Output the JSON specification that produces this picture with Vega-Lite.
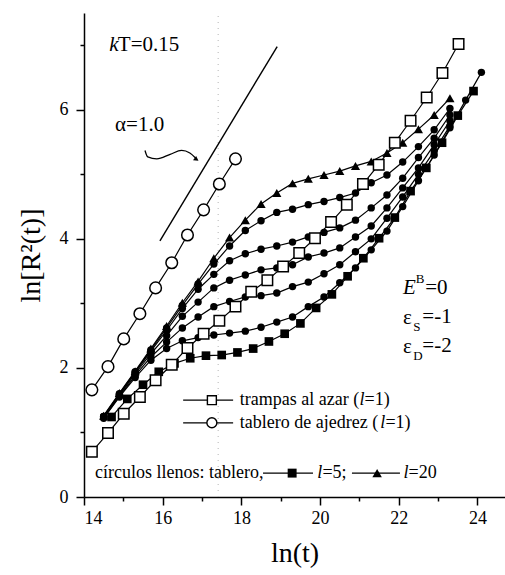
{
  "$schema": "https://vega.github.io/schema/vega-lite/v6.json",
  "width": 421,
  "height": 484,
  "autosize": {"type": "none"},
  "padding": {"left": 84, "top": 13, "right": 0, "bottom": 78},
  "background": "white",
  "config": {
    "view": {"stroke": null},
    "font": "'Liberation Serif', 'Times New Roman', serif",
    "axis": {"grid": false, "domainColor": "black", "tickColor": "black", "labelColor": "black", "titleColor": "black", "labelFont": "'Liberation Serif', 'Times New Roman', serif", "titleFont": "'Liberation Serif', 'Times New Roman', serif", "titleFontWeight": "normal", "domainWidth": 1.5, "tickWidth": 1.5}
  },
  "datasets": {
    "pts": [
      {"s": "tablero", "x": 14.2, "y": 1.66}, {"s": "tablero", "x": 14.61, "y": 2.02}, {"s": "tablero", "x": 15.01, "y": 2.45}, {"s": "tablero", "x": 15.42, "y": 2.84}, {"s": "tablero", "x": 15.82, "y": 3.24}, {"s": "tablero", "x": 16.23, "y": 3.63}, {"s": "tablero", "x": 16.63, "y": 4.06}, {"s": "tablero", "x": 17.04, "y": 4.45}, {"s": "tablero", "x": 17.44, "y": 4.85}, {"s": "tablero", "x": 17.85, "y": 5.24},
      {"s": "trampas", "x": 14.2, "y": 0.70}, {"s": "trampas", "x": 14.61, "y": 0.99}, {"s": "trampas", "x": 15.01, "y": 1.29}, {"s": "trampas", "x": 15.42, "y": 1.55}, {"s": "trampas", "x": 15.82, "y": 1.81}, {"s": "trampas", "x": 16.23, "y": 2.05}, {"s": "trampas", "x": 16.63, "y": 2.31}, {"s": "trampas", "x": 17.04, "y": 2.53}, {"s": "trampas", "x": 17.44, "y": 2.73}, {"s": "trampas", "x": 17.85, "y": 2.95}, {"s": "trampas", "x": 18.25, "y": 3.18}, {"s": "trampas", "x": 18.66, "y": 3.36}, {"s": "trampas", "x": 19.06, "y": 3.57}, {"s": "trampas", "x": 19.47, "y": 3.78}, {"s": "trampas", "x": 19.87, "y": 4.01}, {"s": "trampas", "x": 20.28, "y": 4.26}, {"s": "trampas", "x": 20.68, "y": 4.53}, {"s": "trampas", "x": 21.09, "y": 4.85}, {"s": "trampas", "x": 21.49, "y": 5.15}, {"s": "trampas", "x": 21.9, "y": 5.49}, {"s": "trampas", "x": 22.3, "y": 5.83}, {"s": "trampas", "x": 22.71, "y": 6.19}, {"s": "trampas", "x": 23.11, "y": 6.57}, {"s": "trampas", "x": 23.52, "y": 7.02},
      {"s": "l5", "x": 14.7, "y": 1.24}, {"s": "l5", "x": 15.1, "y": 1.52}, {"s": "l5", "x": 15.5, "y": 1.74}, {"s": "l5", "x": 15.9, "y": 1.94}, {"s": "l5", "x": 16.3, "y": 2.07}, {"s": "l5", "x": 16.7, "y": 2.15}, {"s": "l5", "x": 17.1, "y": 2.19}, {"s": "l5", "x": 17.5, "y": 2.20}, {"s": "l5", "x": 17.9, "y": 2.24}, {"s": "l5", "x": 18.3, "y": 2.30}, {"s": "l5", "x": 18.7, "y": 2.41}, {"s": "l5", "x": 19.1, "y": 2.53}, {"s": "l5", "x": 19.5, "y": 2.69}, {"s": "l5", "x": 19.9, "y": 2.93}, {"s": "l5", "x": 20.3, "y": 3.14}, {"s": "l5", "x": 20.7, "y": 3.42}, {"s": "l5", "x": 21.1, "y": 3.70}, {"s": "l5", "x": 21.5, "y": 4.01}, {"s": "l5", "x": 21.9, "y": 4.33}, {"s": "l5", "x": 22.3, "y": 4.74}, {"s": "l5", "x": 22.7, "y": 5.10}, {"s": "l5", "x": 23.1, "y": 5.49}, {"s": "l5", "x": 23.5, "y": 5.91}, {"s": "l5", "x": 23.9, "y": 6.29},
      {"s": "l20", "x": 14.5, "y": 1.26}, {"s": "l20", "x": 14.9, "y": 1.61}, {"s": "l20", "x": 15.3, "y": 1.95}, {"s": "l20", "x": 15.7, "y": 2.30}, {"s": "l20", "x": 16.1, "y": 2.65}, {"s": "l20", "x": 16.5, "y": 3.01}, {"s": "l20", "x": 16.9, "y": 3.34}, {"s": "l20", "x": 17.3, "y": 3.70}, {"s": "l20", "x": 17.7, "y": 4.02}, {"s": "l20", "x": 18.1, "y": 4.29}, {"s": "l20", "x": 18.5, "y": 4.54}, {"s": "l20", "x": 18.9, "y": 4.71}, {"s": "l20", "x": 19.3, "y": 4.86}, {"s": "l20", "x": 19.7, "y": 4.93}, {"s": "l20", "x": 20.1, "y": 4.99}, {"s": "l20", "x": 20.5, "y": 5.05}, {"s": "l20", "x": 20.9, "y": 5.13}, {"s": "l20", "x": 21.3, "y": 5.20}, {"s": "l20", "x": 21.7, "y": 5.33}, {"s": "l20", "x": 22.1, "y": 5.49}, {"s": "l20", "x": 22.5, "y": 5.70}, {"s": "l20", "x": 22.9, "y": 5.92}, {"s": "l20", "x": 23.3, "y": 6.18},
      {"s": "c1", "x": 14.5, "y": 1.25}, {"s": "c1", "x": 14.9, "y": 1.60}, {"s": "c1", "x": 15.3, "y": 1.94}, {"s": "c1", "x": 15.7, "y": 2.28}, {"s": "c1", "x": 16.1, "y": 2.62}, {"s": "c1", "x": 16.5, "y": 2.97}, {"s": "c1", "x": 16.9, "y": 3.30}, {"s": "c1", "x": 17.3, "y": 3.61}, {"s": "c1", "x": 17.7, "y": 3.89}, {"s": "c1", "x": 18.1, "y": 4.13}, {"s": "c1", "x": 18.5, "y": 4.28}, {"s": "c1", "x": 18.9, "y": 4.41}, {"s": "c1", "x": 19.3, "y": 4.46}, {"s": "c1", "x": 19.7, "y": 4.53}, {"s": "c1", "x": 20.1, "y": 4.58}, {"s": "c1", "x": 20.5, "y": 4.64}, {"s": "c1", "x": 20.9, "y": 4.71}, {"s": "c1", "x": 21.3, "y": 4.87}, {"s": "c1", "x": 21.7, "y": 4.99}, {"s": "c1", "x": 22.1, "y": 5.19}, {"s": "c1", "x": 22.5, "y": 5.43}, {"s": "c1", "x": 22.9, "y": 5.69}, {"s": "c1", "x": 23.3, "y": 6.02},
      {"s": "c2", "x": 14.5, "y": 1.25}, {"s": "c2", "x": 14.9, "y": 1.59}, {"s": "c2", "x": 15.3, "y": 1.93}, {"s": "c2", "x": 15.7, "y": 2.26}, {"s": "c2", "x": 16.1, "y": 2.58}, {"s": "c2", "x": 16.5, "y": 2.92}, {"s": "c2", "x": 16.9, "y": 3.22}, {"s": "c2", "x": 17.3, "y": 3.45}, {"s": "c2", "x": 17.7, "y": 3.66}, {"s": "c2", "x": 18.1, "y": 3.77}, {"s": "c2", "x": 18.5, "y": 3.84}, {"s": "c2", "x": 18.9, "y": 3.89}, {"s": "c2", "x": 19.3, "y": 3.95}, {"s": "c2", "x": 19.7, "y": 4.03}, {"s": "c2", "x": 20.1, "y": 4.10}, {"s": "c2", "x": 20.5, "y": 4.17}, {"s": "c2", "x": 20.9, "y": 4.29}, {"s": "c2", "x": 21.3, "y": 4.48}, {"s": "c2", "x": 21.7, "y": 4.68}, {"s": "c2", "x": 22.1, "y": 4.94}, {"s": "c2", "x": 22.5, "y": 5.26}, {"s": "c2", "x": 22.9, "y": 5.56}, {"s": "c2", "x": 23.3, "y": 5.92},
      {"s": "c3", "x": 14.5, "y": 1.24}, {"s": "c3", "x": 14.9, "y": 1.58}, {"s": "c3", "x": 15.3, "y": 1.91}, {"s": "c3", "x": 15.7, "y": 2.22}, {"s": "c3", "x": 16.1, "y": 2.50}, {"s": "c3", "x": 16.5, "y": 2.80}, {"s": "c3", "x": 16.9, "y": 3.02}, {"s": "c3", "x": 17.3, "y": 3.24}, {"s": "c3", "x": 17.7, "y": 3.36}, {"s": "c3", "x": 18.1, "y": 3.44}, {"s": "c3", "x": 18.5, "y": 3.52}, {"s": "c3", "x": 18.9, "y": 3.55}, {"s": "c3", "x": 19.3, "y": 3.60}, {"s": "c3", "x": 19.7, "y": 3.72}, {"s": "c3", "x": 20.1, "y": 3.78}, {"s": "c3", "x": 20.5, "y": 3.86}, {"s": "c3", "x": 20.9, "y": 4.03}, {"s": "c3", "x": 21.3, "y": 4.20}, {"s": "c3", "x": 21.7, "y": 4.48}, {"s": "c3", "x": 22.1, "y": 4.79}, {"s": "c3", "x": 22.5, "y": 5.10}, {"s": "c3", "x": 22.9, "y": 5.46}, {"s": "c3", "x": 23.3, "y": 5.83},
      {"s": "c4", "x": 14.5, "y": 1.23}, {"s": "c4", "x": 14.9, "y": 1.56}, {"s": "c4", "x": 15.3, "y": 1.88}, {"s": "c4", "x": 15.7, "y": 2.17}, {"s": "c4", "x": 16.1, "y": 2.40}, {"s": "c4", "x": 16.5, "y": 2.62}, {"s": "c4", "x": 16.9, "y": 2.79}, {"s": "c4", "x": 17.3, "y": 2.95}, {"s": "c4", "x": 17.7, "y": 3.03}, {"s": "c4", "x": 18.1, "y": 3.10}, {"s": "c4", "x": 18.5, "y": 3.12}, {"s": "c4", "x": 18.9, "y": 3.16}, {"s": "c4", "x": 19.3, "y": 3.26}, {"s": "c4", "x": 19.7, "y": 3.33}, {"s": "c4", "x": 20.1, "y": 3.46}, {"s": "c4", "x": 20.5, "y": 3.60}, {"s": "c4", "x": 20.9, "y": 3.80}, {"s": "c4", "x": 21.3, "y": 4.00}, {"s": "c4", "x": 21.7, "y": 4.32}, {"s": "c4", "x": 22.1, "y": 4.65}, {"s": "c4", "x": 22.5, "y": 5.00}, {"s": "c4", "x": 22.9, "y": 5.36}, {"s": "c4", "x": 23.3, "y": 5.75},
      {"s": "c5", "x": 14.5, "y": 1.22}, {"s": "c5", "x": 14.9, "y": 1.55}, {"s": "c5", "x": 15.3, "y": 1.85}, {"s": "c5", "x": 15.7, "y": 2.12}, {"s": "c5", "x": 16.1, "y": 2.30}, {"s": "c5", "x": 16.5, "y": 2.42}, {"s": "c5", "x": 16.9, "y": 2.47}, {"s": "c5", "x": 17.3, "y": 2.51}, {"s": "c5", "x": 17.7, "y": 2.54}, {"s": "c5", "x": 18.1, "y": 2.57}, {"s": "c5", "x": 18.5, "y": 2.63}, {"s": "c5", "x": 18.9, "y": 2.71}, {"s": "c5", "x": 19.3, "y": 2.79}, {"s": "c5", "x": 19.7, "y": 2.95}, {"s": "c5", "x": 20.1, "y": 3.10}, {"s": "c5", "x": 20.5, "y": 3.32}, {"s": "c5", "x": 20.9, "y": 3.55}, {"s": "c5", "x": 21.3, "y": 3.83}, {"s": "c5", "x": 21.7, "y": 4.12}, {"s": "c5", "x": 22.1, "y": 4.50}, {"s": "c5", "x": 22.5, "y": 4.90}, {"s": "c5", "x": 22.9, "y": 5.30}, {"s": "c5", "x": 23.3, "y": 5.72}, {"s": "c5", "x": 23.7, "y": 6.15}, {"s": "c5", "x": 24.1, "y": 6.58}
    ],
    "alpha": [{"x": 15.93, "y": 3.97}, {"x": 18.91, "y": 6.98}],
    "squig": [{"x": 15.55, "y": 5.37}, {"x": 15.62, "y": 5.27}, {"x": 15.85, "y": 5.24}, {"x": 16.19, "y": 5.31}, {"x": 16.48, "y": 5.37}, {"x": 16.69, "y": 5.33}, {"x": 16.84, "y": 5.25}],
    "arrowhead": [{"x": 16.86, "y": 5.23}],
    "scan": [{"x": 17.41, "y": 0}, {"x": 17.41, "y": 7.5}],
    "legl": [
      {"g": "a", "x": 16.52, "y": 1.5}, {"g": "a", "x": 17.79, "y": 1.5},
      {"g": "b", "x": 16.52, "y": 1.15}, {"g": "b", "x": 17.79, "y": 1.15},
      {"g": "c", "x": 18.55, "y": 0.37}, {"g": "c", "x": 19.82, "y": 0.37},
      {"g": "d", "x": 20.81, "y": 0.37}, {"g": "d", "x": 22.03, "y": 0.37}
    ],
    "legs": [
      {"s": "trampas", "x": 17.25, "y": 1.5},
      {"s": "tablero", "x": 17.25, "y": 1.15},
      {"s": "l5", "x": 19.29, "y": 0.37},
      {"s": "l20", "x": 21.45, "y": 0.37}
    ],
    "txtLeg": [
      {"t": "trampas al azar (", "x": 17.96, "y": 1.5},
      {"t": "tablero de ajedrez (", "x": 17.96, "y": 1.15},
      {"t": "círculos llenos: tablero,", "x": 14.28, "y": 0.37}
    ],
    "txtLegR": [
      {"t": "=1)", "x": 21.13, "y": 1.5},
      {"t": "=1)", "x": 21.66, "y": 1.15},
      {"t": "=5;", "x": 20.06, "y": 0.37},
      {"t": "=20", "x": 22.25, "y": 0.37}
    ],
    "txtLegI": [
      {"t": "l", "x": 21.0, "y": 1.5},
      {"t": "l", "x": 21.53, "y": 1.15},
      {"t": "l", "x": 19.93, "y": 0.37},
      {"t": "l", "x": 22.12, "y": 0.37}
    ],
    "txtBig": [
      {"t": "T=0.15", "x": 14.86, "y": 7.0},
      {"t": "α=1.0", "x": 14.79, "y": 5.76},
      {"t": "=0", "x": 22.67, "y": 3.24},
      {"t": "ε", "x": 22.11, "y": 2.77},
      {"t": "=-1", "x": 22.6, "y": 2.79},
      {"t": "ε", "x": 22.11, "y": 2.32},
      {"t": "=-2", "x": 22.6, "y": 2.34}
    ],
    "txtIt": [
      {"t": "k", "x": 14.64, "y": 7.0},
      {"t": "E", "x": 22.11, "y": 3.24}
    ],
    "txtSup": [{"t": "B", "x": 22.43, "y": 3.24}],
    "txtSub": [{"t": "S", "x": 22.37, "y": 2.77}, {"t": "D", "x": 22.37, "y": 2.32}]
  },
  "encoding": {
    "x": {
      "field": "x", "type": "quantitative",
      "scale": {"domain": [14, 24.7], "nice": false, "zero": false},
      "axis": {
        "title": "ln(t)", "titleFontSize": 28, "titlePadding": 12,
        "values": [14, 15, 16, 17, 18, 19, 20, 21, 22, 23, 24],
        "labelExpr": "datum.value % 2 === 0 ? datum.label : ''",
        "tickSize": {"condition": {"test": "datum.value % 2 === 0", "value": 8}, "value": 4},
        "labelFontSize": 18, "labelPadding": 4
      }
    },
    "y": {
      "field": "y", "type": "quantitative",
      "scale": {"domain": [0, 7.5], "nice": false, "zero": false},
      "axis": {
        "title": "ln[R²(t)]", "titleFontSize": 28, "titlePadding": 14,
        "values": [0, 1, 2, 3, 4, 5, 6, 7],
        "labelExpr": "datum.value % 2 === 0 ? datum.label : ''",
        "tickSize": {"condition": {"test": "datum.value % 2 === 0", "value": 8}, "value": 4},
        "labelFontSize": 18, "labelPadding": 8
      }
    }
  },
  "layer": [
    {"data": {"name": "scan"}, "mark": {"type": "line", "color": "#b5b5b5", "strokeWidth": 1, "strokeDash": [1, 5]}, "encoding": {}},
    {"data": {"name": "pts"}, "mark": {"type": "line", "color": "black", "strokeWidth": 1.2}, "encoding": {"detail": {"field": "s"}, "order": {"field": "x", "type": "quantitative"}}},
    {"data": {"name": "alpha"}, "mark": {"type": "line", "color": "black", "strokeWidth": 1.4}, "encoding": {}},
    {"data": {"name": "squig"}, "mark": {"type": "line", "color": "black", "strokeWidth": 1.3, "interpolate": "monotone"}, "encoding": {}},
    {"data": {"name": "arrowhead"}, "mark": {"type": "point", "shape": "triangle-right", "angle": 35, "filled": true, "color": "black", "size": 30, "opacity": 1}},
    {"data": {"name": "legl"}, "mark": {"type": "line", "color": "black", "strokeWidth": 1.2}, "encoding": {"detail": {"field": "g"}}},
    {"data": {"name": "pts"}, "transform": [{"filter": "datum.s === 'l5'"}], "mark": {"type": "point", "shape": "square", "filled": true, "color": "black", "size": 75, "opacity": 1}},
    {"data": {"name": "pts"}, "transform": [{"filter": "datum.s === 'c1' || datum.s === 'c2' || datum.s === 'c3' || datum.s === 'c4' || datum.s === 'c5'"}], "mark": {"type": "point", "shape": "circle", "filled": true, "color": "black", "size": 55, "opacity": 1}},
    {"data": {"name": "pts"}, "transform": [{"filter": "datum.s === 'l20'"}], "mark": {"type": "point", "shape": "triangle-up", "filled": true, "color": "black", "size": 85, "opacity": 1}},
    {"data": {"name": "pts"}, "transform": [{"filter": "datum.s === 'trampas'"}], "mark": {"type": "point", "shape": "square", "filled": true, "fill": "white", "stroke": "black", "strokeWidth": 1.5, "size": 110, "opacity": 1}},
    {"data": {"name": "pts"}, "transform": [{"filter": "datum.s === 'tablero'"}], "mark": {"type": "point", "shape": "circle", "filled": true, "fill": "white", "stroke": "black", "strokeWidth": 1.5, "size": 135, "opacity": 1}},
    {"data": {"name": "legs"}, "transform": [{"filter": "datum.s === 'trampas'"}], "mark": {"type": "point", "shape": "square", "filled": true, "fill": "white", "stroke": "black", "strokeWidth": 1.4, "size": 80, "opacity": 1}},
    {"data": {"name": "legs"}, "transform": [{"filter": "datum.s === 'tablero'"}], "mark": {"type": "point", "shape": "circle", "filled": true, "fill": "white", "stroke": "black", "strokeWidth": 1.4, "size": 100, "opacity": 1}},
    {"data": {"name": "legs"}, "transform": [{"filter": "datum.s === 'l5'"}], "mark": {"type": "point", "shape": "square", "filled": true, "color": "black", "size": 80, "opacity": 1}},
    {"data": {"name": "legs"}, "transform": [{"filter": "datum.s === 'l20'"}], "mark": {"type": "point", "shape": "triangle-up", "filled": true, "color": "black", "size": 90, "opacity": 1}},
    {"data": {"name": "txtLeg"}, "mark": {"type": "text", "align": "left", "baseline": "middle", "font": "'Liberation Serif', 'Times New Roman', serif", "fontSize": 18, "color": "black"}, "encoding": {"text": {"field": "t"}}},
    {"data": {"name": "txtLegR"}, "mark": {"type": "text", "align": "left", "baseline": "middle", "font": "'Liberation Serif', 'Times New Roman', serif", "fontSize": 18, "color": "black"}, "encoding": {"text": {"field": "t"}}},
    {"data": {"name": "txtLegI"}, "mark": {"type": "text", "align": "left", "baseline": "middle", "font": "'Liberation Serif', 'Times New Roman', serif", "fontStyle": "italic", "fontSize": 18, "color": "black"}, "encoding": {"text": {"field": "t"}}},
    {"data": {"name": "txtBig"}, "mark": {"type": "text", "align": "left", "baseline": "middle", "font": "'Liberation Serif', 'Times New Roman', serif", "fontSize": 21, "color": "black"}, "encoding": {"text": {"field": "t"}}},
    {"data": {"name": "txtIt"}, "mark": {"type": "text", "align": "left", "baseline": "middle", "font": "'Liberation Serif', 'Times New Roman', serif", "fontStyle": "italic", "fontSize": 21, "color": "black"}, "encoding": {"text": {"field": "t"}}},
    {"data": {"name": "txtSup"}, "mark": {"type": "text", "align": "left", "baseline": "middle", "font": "'Liberation Serif', 'Times New Roman', serif", "fontSize": 13, "dy": -9, "color": "black"}, "encoding": {"text": {"field": "t"}}},
    {"data": {"name": "txtSub"}, "mark": {"type": "text", "align": "left", "baseline": "middle", "font": "'Liberation Serif', 'Times New Roman', serif", "fontSize": 13, "dy": 9, "color": "black"}, "encoding": {"text": {"field": "t"}}}
  ]
}
